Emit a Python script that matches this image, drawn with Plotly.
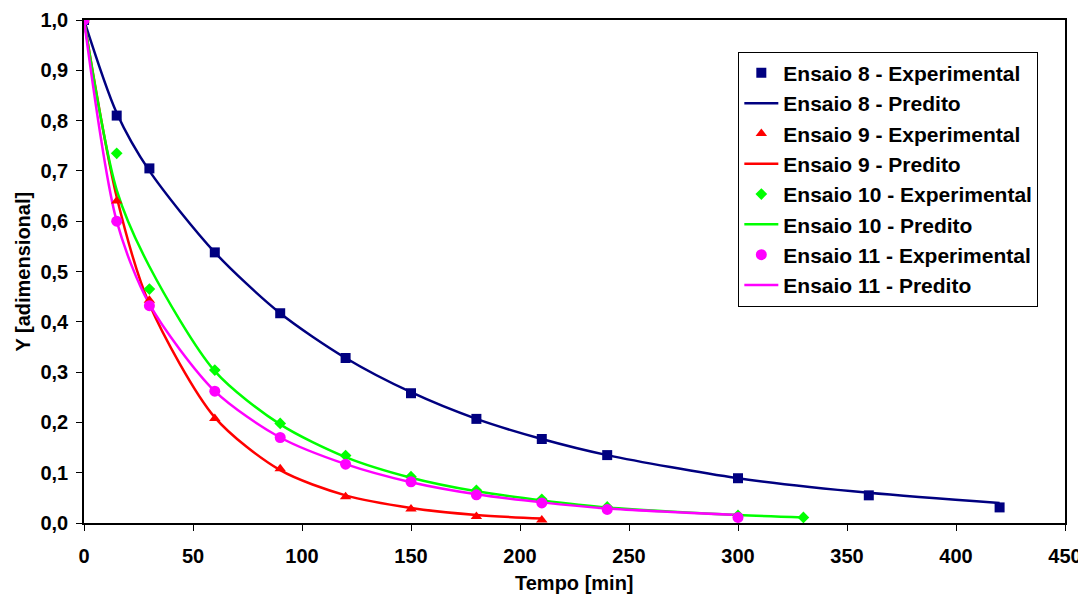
import plotly.graph_objects as go

# Ensaio 8
t8 = [0, 15, 30, 60, 90, 120, 150, 180, 210, 240, 300, 360, 420]
y8_exp = [1.0, 0.81, 0.705, 0.538, 0.417, 0.328, 0.258, 0.207, 0.167, 0.135, 0.089, 0.055, 0.031]
y8_pred = [1.0, 0.815, 0.70, 0.538, 0.417, 0.328, 0.26, 0.207, 0.167, 0.135, 0.089, 0.060, 0.040]

# Ensaio 9
t9 = [0, 15, 30, 60, 90, 120, 150, 180, 210]
y9_exp = [1.0, 0.64, 0.443, 0.208, 0.108, 0.052, 0.028, 0.013, 0.006]
y9_pred = [1.0, 0.648, 0.435, 0.21, 0.105, 0.055, 0.030, 0.016, 0.009]

# Ensaio 10
t10 = [0, 15, 30, 60, 90, 120, 150, 180, 210, 240, 300, 330]
y10_exp = [1.0, 0.735, 0.465, 0.304, 0.198, 0.134, 0.092, 0.065, 0.047, 0.032, 0.015, 0.011]
y10_pred = [1.0, 0.662, 0.51, 0.302, 0.196, 0.131, 0.090, 0.063, 0.045, 0.031, 0.016, 0.011]

# Ensaio 11
t11 = [0, 15, 30, 60, 90, 120, 150, 180, 210, 240, 300]
y11_exp = [1.0, 0.60, 0.432, 0.262, 0.17, 0.117, 0.082, 0.056, 0.040, 0.027, 0.011]
y11_pred = [1.0, 0.60, 0.435, 0.262, 0.17, 0.117, 0.081, 0.057, 0.041, 0.029, 0.016]

x_ticks = [0, 50, 100, 150, 200, 250, 300, 350, 400, 450]
y_ticks = [0.0, 0.1, 0.2, 0.3, 0.4, 0.5, 0.6, 0.7, 0.8, 0.9, 1.0]

series = [
    ("Ensaio 8", t8, y8_exp, y8_pred, "#000080", "square", 10),
    ("Ensaio 9", t9, y9_exp, y9_pred, "#FF0000", "triangle-up", 10),
    ("Ensaio 10", t10, y10_exp, y10_pred, "#00FF00", "diamond", 9),
    ("Ensaio 11", t11, y11_exp, y11_pred, "#FF00FF", "circle", 11),
]

fig = go.Figure()
for i, (name, t, ye, yp, col, sym, sz) in enumerate(series):
    fig.add_trace(go.Scatter(
        x=t, y=yp, mode="lines", line=dict(color=col, width=2.5, shape="spline", smoothing=0.8),
        showlegend=False, hoverinfo="skip"))
for i, (name, t, ye, yp, col, sym, sz) in enumerate(series):
    fig.add_trace(go.Scatter(
        x=t, y=ye, mode="markers", name=f"{name} - Experimental",
        marker=dict(color=col, symbol=sym, size=sz, line=dict(width=0)),
        legendgroup=f"g{2*i}", legendrank=2*i + 1))
    fig.add_trace(go.Scatter(
        x=[None], y=[None], mode="lines", name=f"{name} - Predito",
        line=dict(color=col, width=2.5),
        legendgroup=f"g{2*i+1}", legendrank=2*i + 2))

FAM = "Liberation Sans, Arial, sans-serif"
font = dict(family=FAM, size=20, color="black")

# page body has an 8px margin; compensate so the plot area lands at the same pixels
fig.update_layout(
    width=1078, height=586,
    margin=dict(l=76, r=21, t=12, b=71),
    paper_bgcolor="white", plot_bgcolor="white",
    separators=", ",
    font=font,
    showlegend=True,
    legend=dict(
        x=0.667, y=0.937, xanchor="left", yanchor="top",
        bgcolor="white", bordercolor="black", borderwidth=1,
        font=dict(family=FAM, size=21, color="black", weight="bold"),
        tracegroupgap=0, itemwidth=34,
    ),
    xaxis=dict(
        range=[0, 450], tickvals=x_ticks, ticktext=[str(v) for v in x_ticks],
        showgrid=False, zeroline=False, automargin=False,
        showline=True, linecolor="black", linewidth=1.5, mirror=True,
        ticks="outside", ticklen=6, tickcolor="black", tickwidth=1,
        ticklabelstandoff=8,
        tickfont=dict(family=FAM, size=20, weight="bold"),
    ),
    yaxis=dict(
        range=[0, 1.0], tickvals=y_ticks, tickformat=".1f",
        showgrid=False, zeroline=False, automargin=False,
        showline=True, linecolor="black", linewidth=1.5, mirror=True,
        ticks="outside", ticklen=6, tickcolor="black", tickwidth=1,
        ticklabelstandoff=4,
        tickfont=dict(family=FAM, size=20, weight="bold"),
    ),
    annotations=[
        dict(text="<b>Tempo [min]</b>", xref="paper", yref="paper", x=0.5, y=0,
             xanchor="center", yanchor="middle", yshift=-60, showarrow=False,
             font=dict(family=FAM, size=20, color="black")),
        dict(text="<b>Y [adimensional]</b>", xref="paper", yref="paper", x=0, y=0.5,
             xanchor="center", yanchor="middle", xshift=-62, textangle=-90, showarrow=False,
             font=dict(family=FAM, size=20, color="black")),
    ],
)

fig.write_html("out.html")
